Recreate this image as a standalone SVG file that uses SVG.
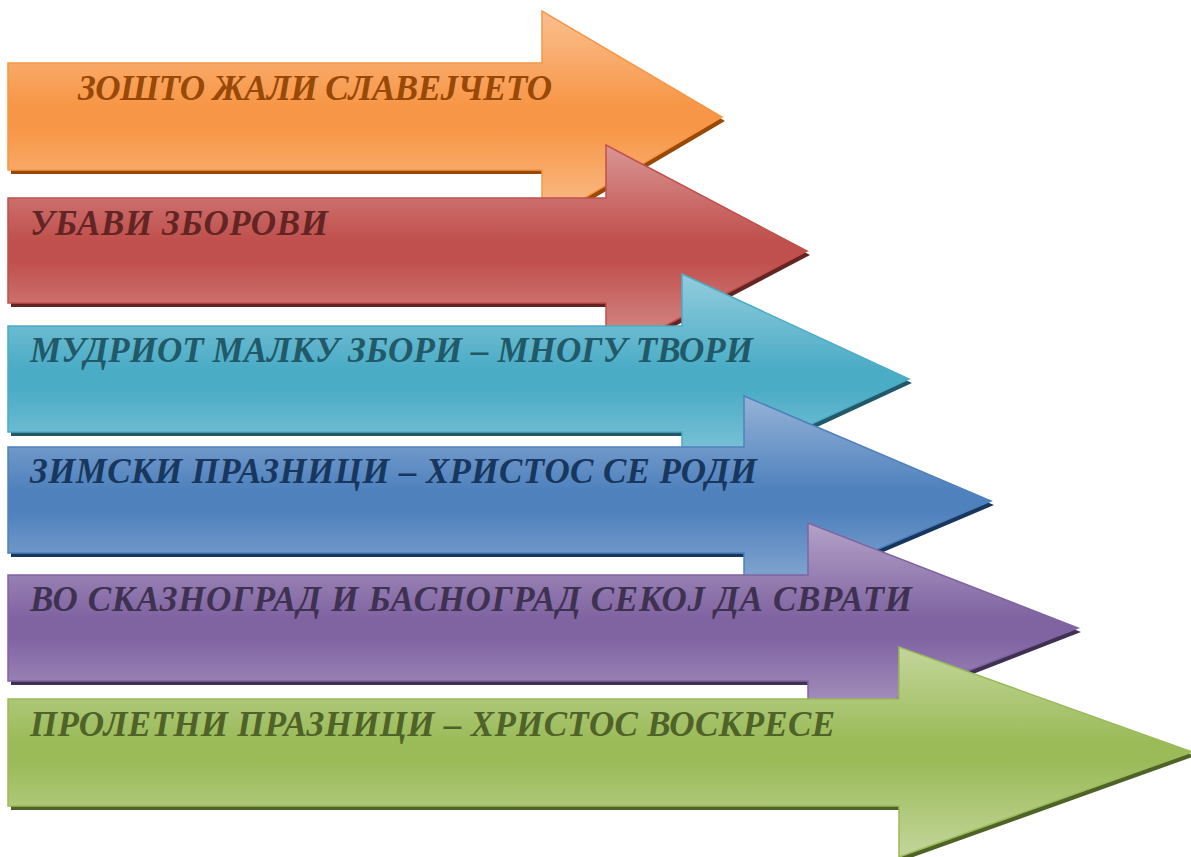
<svg xmlns="http://www.w3.org/2000/svg" xmlns:xlink="http://www.w3.org/1999/xlink" width="1191" height="857" viewBox="0 0 1191 857">
<style>
.lbl{font-family:"Liberation Serif","Times New Roman",serif;font-weight:bold;font-style:italic;font-size:35px}
.body{stroke-width:1.5;stroke-linejoin:miter}
</style>
<defs>
<linearGradient id="gO" x1="0" y1="0" x2="0" y2="1"><stop offset="0" stop-color="#fac090"/><stop offset="0.45" stop-color="#f79646"/><stop offset="0.55" stop-color="#f79646"/><stop offset="1" stop-color="#fac090"/></linearGradient>
<linearGradient id="gR" x1="0" y1="0" x2="0" y2="1"><stop offset="0" stop-color="#d99694"/><stop offset="0.45" stop-color="#c0504d"/><stop offset="0.55" stop-color="#c0504d"/><stop offset="1" stop-color="#d99694"/></linearGradient>
<linearGradient id="gT" x1="0" y1="0" x2="0" y2="1"><stop offset="0" stop-color="#93cddd"/><stop offset="0.45" stop-color="#4bacc6"/><stop offset="0.55" stop-color="#4bacc6"/><stop offset="1" stop-color="#93cddd"/></linearGradient>
<linearGradient id="gB" x1="0" y1="0" x2="0" y2="1"><stop offset="0" stop-color="#95b3d7"/><stop offset="0.45" stop-color="#4f81bd"/><stop offset="0.55" stop-color="#4f81bd"/><stop offset="1" stop-color="#95b3d7"/></linearGradient>
<linearGradient id="gP" x1="0" y1="0" x2="0" y2="1"><stop offset="0" stop-color="#b3a2c7"/><stop offset="0.45" stop-color="#8064a2"/><stop offset="0.55" stop-color="#8064a2"/><stop offset="1" stop-color="#b3a2c7"/></linearGradient>
<linearGradient id="gG" x1="0" y1="0" x2="0" y2="1"><stop offset="0" stop-color="#c3d69b"/><stop offset="0.45" stop-color="#9bbb59"/><stop offset="0.55" stop-color="#9bbb59"/><stop offset="1" stop-color="#c3d69b"/></linearGradient>
<path id="a1" d="M8,63 L542,63 L542,11 L722,117 L542,223 L542,170 L8,170 Z"/>
<path id="a2" d="M8,198 L606,198 L606,145 L807,251 L606,357 L606,303 L8,303 Z"/>
<path id="a3" d="M8,326 L682,326 L682,274 L909,379 L682,484 L682,432 L8,432 Z"/>
<path id="a4" d="M8,447 L744,447 L744,396 L991,501 L744,606 L744,553 L8,553 Z"/>
<path id="a5" d="M8,575 L808,575 L808,523 L1078,628 L808,733 L808,681 L8,681 Z"/>
<path id="a6" d="M8,699 L899,699 L899,647 L1192,752 L899,857 L899,806 L8,806 Z"/>
</defs>
<g id="connectors"></g>
<g id="node1">
<use xlink:href="#a1" transform="translate(3,4)" fill="#984807"/>
<use xlink:href="#a1" class="body" fill="url(#gO)" stroke="#f79646"/>
<text class="lbl" x="78" y="100" fill="#984807" textLength="474">ЗОШТО ЖАЛИ СЛАВЕЈЧЕТО</text>
</g>
<g id="node2">
<use xlink:href="#a2" transform="translate(3,4)" fill="#632523"/>
<use xlink:href="#a2" class="body" fill="url(#gR)" stroke="#c0504d"/>
<text class="lbl" x="30" y="235" fill="#632523" textLength="298">УБАВИ ЗБОРОВИ</text>
</g>
<g id="node3">
<use xlink:href="#a3" transform="translate(3,4)" fill="#215968"/>
<use xlink:href="#a3" class="body" fill="url(#gT)" stroke="#4bacc6"/>
<text class="lbl" x="30" y="362" fill="#215968" textLength="723">МУДРИОТ МАЛКУ ЗБОРИ – МНОГУ ТВОРИ</text>
</g>
<g id="node4">
<use xlink:href="#a4" transform="translate(3,4)" fill="#17375e"/>
<use xlink:href="#a4" class="body" fill="url(#gB)" stroke="#4f81bd"/>
<text class="lbl" x="30" y="483" fill="#17375e" textLength="727">ЗИМСКИ ПРАЗНИЦИ – ХРИСТОС СЕ РОДИ</text>
</g>
<g id="node5">
<use xlink:href="#a5" transform="translate(3,4)" fill="#3f3151"/>
<use xlink:href="#a5" class="body" fill="url(#gP)" stroke="#8064a2"/>
<text class="lbl" x="30" y="611" fill="#3f3151" textLength="882">ВО СКАЗНОГРАД И БАСНОГРАД СЕКОЈ ДА СВРАТИ</text>
</g>
<g id="node6">
<use xlink:href="#a6" transform="translate(3,4)" fill="#4f6228"/>
<use xlink:href="#a6" class="body" fill="url(#gG)" stroke="#9bbb59"/>
<text class="lbl" x="30" y="736" fill="#4f6228" textLength="805">ПРОЛЕТНИ ПРАЗНИЦИ – ХРИСТОС ВОСКРЕСЕ</text>
</g>
</svg>
